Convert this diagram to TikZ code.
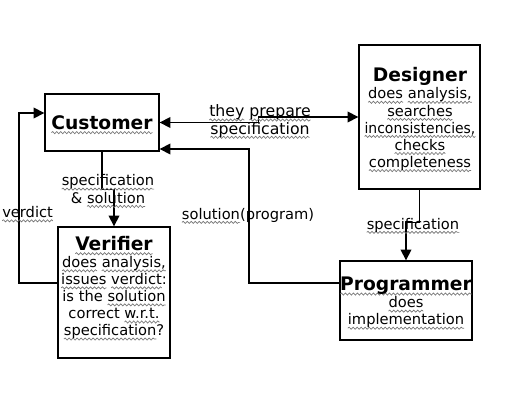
\documentclass[tikz,border=0pt]{standalone}
\usepackage{fontspec}
\setmainfont{DejaVu Sans}
\usetikzlibrary{arrows.meta,calc,decorations.pathmorphing}
\newlength\wvlen
\newcommand\wv[1]{\settowidth\wvlen{#1}\leavevmode\rlap{\tikz[baseline=0pt]{\useasboundingbox (0pt,0pt) rectangle (\wvlen,0.1pt);
  \draw[black!55,line width=0.5pt,decorate,decoration={snake,amplitude=0.8pt,segment length=3pt}] (0pt,-2.5pt) -- (\wvlen,-2.5pt);}}#1}
\begin{document}
\begin{tikzpicture}[x=0.75pt,y=-0.75pt,
  box/.style={draw=black,line width=1pt,inner sep=0pt},
  btxt/.style={font=\fontsize{11}{12.8}\selectfont,align=center,inner sep=0pt},
  lbl/.style={font=\fontsize{11}{13}\selectfont,align=center,inner sep=0pt},
  conn/.style={line width=1pt,-{Triangle[length=8pt,width=8pt]}},
  conn2/.style={line width=1pt,{Triangle[length=8pt,width=8pt]}-{Triangle[length=8pt,width=8pt]}}]
\fill[white] (0,0) rectangle (529,404);
\useasboundingbox (0,0) rectangle (529,404);

% boxes
\node[box,minimum width=85.5pt,minimum height=42.75pt,font=\fontsize{14}{16}\selectfont\bfseries] (cust) at (102,122.5) {\wv{Customer}};
\node[box,minimum width=90.75pt,minimum height=108pt] (des) at (419.5,117) {};
\node[box,minimum width=84pt,minimum height=98.25pt] (ver) at (114,292.5) {};
\node[box,minimum width=99pt,minimum height=59.25pt] (prog) at (406,300.5) {};

% box texts
\node[btxt] (dest) at (420,119) {{\fontsize{14}{16}\selectfont\bfseries Designer}\\
  \wv{does} \wv{analysis,}\\ \wv{searches}\\ \scalebox{0.95}[1]{\wv{inconsistencies,}}\\ \wv{checks}\\ \wv{completeness}};
\node[btxt] (vert) at (114,287.5) {{\fontsize{14}{16}\selectfont\bfseries\wv{Verifier}}\\
  \wv{does} \wv{analysis,}\\ \wv{issues} \wv{verdict}:\\ is the \wv{solution}\\ correct \wv{w.r.t.}\\ \wv{specification}?};
\node[btxt] (progt) at (406,302.5) {{\fontsize{14}{16}\selectfont\bfseries\wv{Programmer}}\\
  \wv{does}\\ \wv{implementation}};

% connectors
\draw[conn2] (cust.east) -- ++(99,0) |- (des.west);
\node[lbl,font=\fontsize{11.8}{13}\selectfont] (l1) at (260,121) {\wv{they} \wv{prepare}\\ \wv{specification}};

\draw[conn] (cust.south) -- ++(0,38) -| (ver.north);
\node[lbl] (l2) at (108,189) {\wv{specification}\\ \& \wv{solution}};

\coordinate (vout) at ($(ver.west)+(0,-9.5)$);
\coordinate (cin) at ($(cust.west)+(0,-9.5)$);
\draw[conn] (vout) -- (19,283) |- (cin);
\node[lbl,anchor=west] (l3) at (2,212) {\wv{verdict}};

\coordinate (pout) at ($(prog.west)+(0,-17.5)$);
\coordinate (cin2) at ($(cust.east)+(0,26.5)$);
\draw[conn] (pout) -- (249,283) |- (cin2);
\node[lbl] (l4) at (248,215) {\wv{solution}(program)};

\draw[conn] (des.south) -- ++(0,33) -| (prog.north);
\node[lbl] (l5) at (413,225) {\wv{specification}};
\end{tikzpicture}
\end{document}
